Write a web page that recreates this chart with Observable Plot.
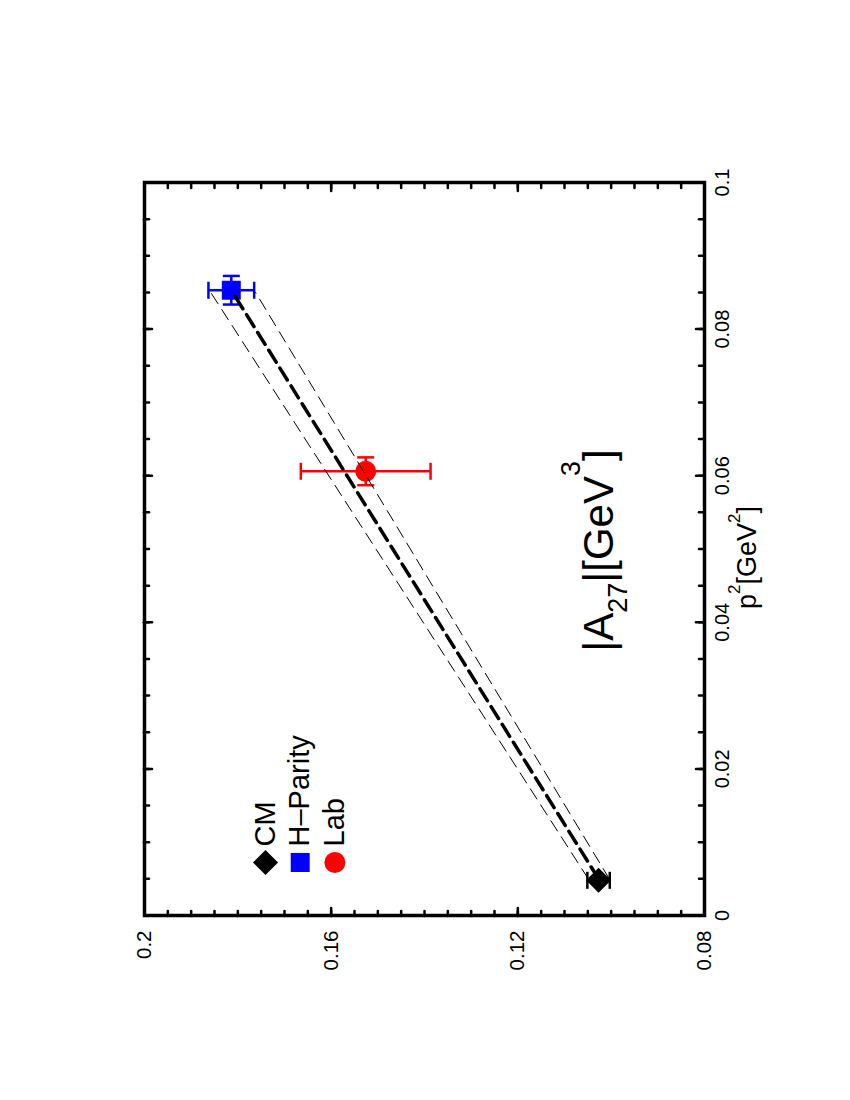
<!DOCTYPE html>
<html>
<head>
<meta charset="utf-8">
<script src="https://cdn.jsdelivr.net/npm/d3@7"></script>
<script src="https://cdn.jsdelivr.net/npm/@observablehq/plot@0.6"></script>
<style>
html, body { margin: 0; padding: 0; background: #fff; overflow: hidden; }
#page { position: relative; width: 850px; height: 1100px; overflow: hidden; background: #fff; }
</style>
</head>
<body>
<div id="page"></div>
<script>
// ---- data ----
const seriesNames = ["CM", "H\u2013Parity", "Lab"];
const p2Values = [0.0048, 0.0853, 0.0606];
const aValues = [0.1027, 0.1814, 0.1526];
const aErrors = [0.0024, 0.0049, 0.0139];
const p2Errors = [0, 0.00195, 0.0019];
const seriesColors = ["black", "blue", "red"];
const seriesSymbols = ["diamond2", "square", "circle"];

const fitP2 = [0.005, 0.085];
const fitA = [0.1027, 0.1811];
const fitUpperA = [0.1049, 0.1858];
const fitLowerA = [0.1004, 0.1762];

const aTicks = [0.08, 0.12, 0.16, 0.2];
const aTickLabels = ["0.08", "0.12", "0.16", "0.2"];
const p2Ticks = [0, 0.02, 0.04, 0.06, 0.08, 0.1];
const p2TickLabels = ["0", "0.02", "0.04", "0.06", "0.08", "0.1"];

const aLabelParts = [["|A", ""], ["27", "sub"], ["|[GeV", ""], ["3", "sup"], ["]", ""]];
const p2LabelParts = [["p", ""], ["2", "sup"], ["[GeV", ""], ["2", "sup"], ["]", ""]];

// ---- layout / style ----
const W = 1100, H = 850;
const mL = 184, mR = 183, mT = 144, mB = 146;
const innerW = W - mL - mR;
const innerH = H - mT - mB;
const FONT = "'Liberation Sans', Arial, Helvetica, sans-serif";
const markerR = {diamond2: 11.3, square: 10.7, circle: 10.5};
const minorLen = 5, majorLen = 8;

const pts = seriesNames.map((name, i) => ({
  name, p2: p2Values[i], a: aValues[i], ea: aErrors[i], ep: p2Errors[i],
  color: seriesColors[i], symbol: seriesSymbols[i]
}));
const ptsP = pts.filter(d => d.ep > 0);
const fit = fitP2.map((p, i) => ({p2: p, a: fitA[i], up: fitUpperA[i], lo: fitLowerA[i]}));

const capH = {draw(ctx, size) { const r = Math.sqrt(size / Math.PI); ctx.moveTo(-r, 0); ctx.lineTo(r, 0); }};
const capV = {draw(ctx, size) { const r = Math.sqrt(size / Math.PI); ctx.moveTo(0, -r); ctx.lineTo(0, r); }};

const p2Minor = d3.range(1, 20).map(k => k * 0.005);
const aMinor = d3.range(17, 40).map(k => k * 0.005);
const p2Major = p2Ticks.slice(1, -1);
const aMajor = aTicks.slice(1, -1);

const tickStyle = {stroke: "black", strokeWidth: 2.5, strokeLinecap: "round"};
const errStyle = {stroke: "color", strokeWidth: 2.5};

const aLabelText = aLabelParts.map(d => d[0]).join("");
const p2LabelText = p2LabelParts.map(d => d[0]).join("");

const marks = [
  // ticks (inward, all four sides)
  Plot.tickX(p2Minor, {x: d => d, insetTop: innerH - minorLen, ...tickStyle}),
  Plot.tickX(p2Minor, {x: d => d, insetBottom: innerH - minorLen, ...tickStyle}),
  Plot.tickX(p2Major, {x: d => d, insetTop: innerH - majorLen, ...tickStyle}),
  Plot.tickX(p2Major, {x: d => d, insetBottom: innerH - majorLen, ...tickStyle}),
  Plot.tickY(aMinor, {y: d => d, insetRight: innerW - minorLen, ...tickStyle}),
  Plot.tickY(aMinor, {y: d => d, insetLeft: innerW - minorLen, ...tickStyle}),
  Plot.tickY(aMajor, {y: d => d, insetRight: innerW - majorLen, ...tickStyle}),
  Plot.tickY(aMajor, {y: d => d, insetLeft: innerW - majorLen, ...tickStyle}),
  Plot.frame({stroke: "black", strokeWidth: 3.5}),
  // tick labels
  Plot.text(aTicks, {y: d => d, text: (d, i) => aTickLabels[i], frameAnchor: "left", textAnchor: "end", lineAnchor: "middle", dx: -15, fontSize: 20.5, fontFamily: FONT, fill: "black"}),
  Plot.text(p2Ticks, {x: d => d, text: (d, i) => p2TickLabels[i], frameAnchor: "bottom", lineAnchor: "top", dy: 10, fontSize: 20, fontFamily: FONT, fill: "black"}),
  // error bars
  Plot.ruleX(pts, {x: "p2", y1: d => d.a - d.ea, y2: d => d.a + d.ea, ...errStyle}),
  Plot.dot(pts, {x: "p2", y: d => d.a - d.ea, symbol: capH, r: 8.5, fill: "none", ...errStyle}),
  Plot.dot(pts, {x: "p2", y: d => d.a + d.ea, symbol: capH, r: 8.5, fill: "none", ...errStyle}),
  Plot.ruleY(ptsP, {y: "a", x1: d => d.p2 - d.ep, x2: d => d.p2 + d.ep, ...errStyle}),
  Plot.dot(ptsP, {x: d => d.p2 - d.ep, y: "a", symbol: capV, r: 8.5, fill: "none", ...errStyle}),
  Plot.dot(ptsP, {x: d => d.p2 + d.ep, y: "a", symbol: capV, r: 8.5, fill: "none", ...errStyle}),
  // markers
  ...pts.map(d => Plot.dot([d], {x: "p2", y: "a", symbol: d.symbol, r: markerR[d.symbol], fill: d.color, stroke: "none"})),
  // fit lines
  Plot.line(fit, {x: "p2", y: "up", stroke: "black", strokeWidth: 1, strokeDasharray: "12,7"}),
  Plot.line(fit, {x: "p2", y: "lo", stroke: "black", strokeWidth: 1, strokeDasharray: "12,7"}),
  Plot.line(fit, {x: "p2", y: "a", stroke: "black", strokeWidth: 3.5, strokeDasharray: "14,7"}),
  // legend
  ...pts.map((d, i) => Plot.dot([d], {frameAnchor: "top-left", dx: 53, dy: 121 + i * 34.7, symbol: d.symbol, r: markerR[d.symbol], fill: d.color, stroke: "none"})),
  ...pts.map((d, i) => Plot.text([d], {frameAnchor: "top-left", dx: 69, dy: 121 + i * 34.7, text: "name", textAnchor: "start", lineAnchor: "middle", fontSize: 29, fontFamily: FONT, fill: "black"})),
  // axis titles
  Plot.text([aLabelText], {frameAnchor: "top-left", dx: 365, dy: 468, text: d => d, textAnchor: "middle", lineAnchor: "bottom", fontSize: 42, fontFamily: FONT, fill: "black"}),
  Plot.text([p2LabelText], {frameAnchor: "bottom-left", dx: 358, dy: 51, text: d => d, textAnchor: "middle", lineAnchor: "bottom", fontSize: 27, fontFamily: FONT, fill: "black"})
];

const svg = Plot.plot({
  width: W, height: H,
  marginLeft: mL, marginRight: mR, marginTop: mT, marginBottom: mB,
  x: {domain: [0, 0.1], axis: null},
  y: {domain: [0.08, 0.2], axis: null},
  color: {type: "identity"},
  marks
});

// sub/superscripts
function richText(plain, parts, subSize, subShift, supShift) {
  d3.select(svg).selectAll("text").filter(function() { return this.textContent === plain; }).each(function() {
    const t = d3.select(this);
    t.selectAll("*").remove();
    t.text("");
    let offset = 0;
    for (const [s, kind] of parts) {
      const target = kind === "sub" ? subShift : kind === "sup" ? -supShift : 0;
      const ts = t.append("tspan").text(s).attr("dy", target - offset);
      if (kind) ts.attr("font-size", subSize);
      offset = target;
    }
  });
}
richText(aLabelText, aLabelParts, 27, 14, 33);
richText(p2LabelText, p2LabelParts, 17, 0, 16);

svg.style.maxWidth = "none";
svg.style.position = "absolute";
svg.style.left = "0px";
svg.style.top = "0px";
svg.style.fontFamily = FONT;
svg.style.transformOrigin = "0 0";
svg.style.transform = "translate(0px, 1100px) rotate(-90deg)";
document.getElementById("page").appendChild(svg);
</script>
</body>
</html>
